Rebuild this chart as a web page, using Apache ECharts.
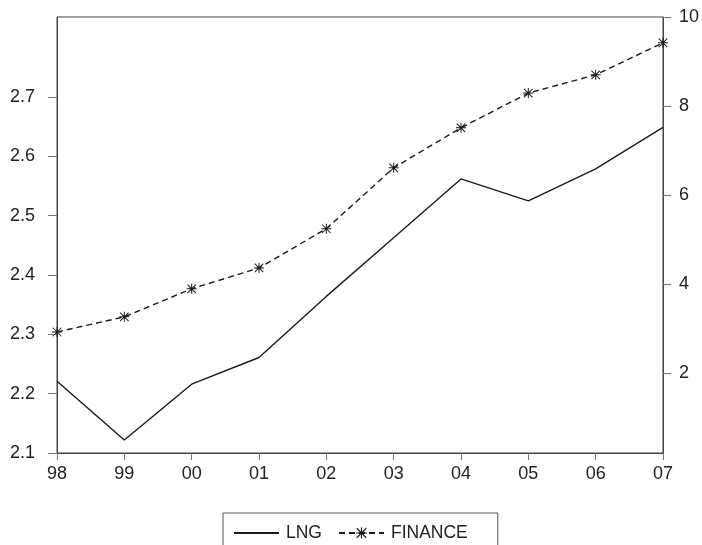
<!DOCTYPE html>
<html>
<head>
<meta charset="utf-8">
<script src="https://cdn.jsdelivr.net/npm/echarts@6/dist/echarts.min.js"></script>
<style>
  html, body { margin: 0; padding: 0; background: #fff; }
  #chart { width: 702px; height: 545px; }
</style>
</head>
<body>
<div id="chart"></div>
<script>
// Years shown along the horizontal axis
const years = ['98', '99', '00', '01', '02', '03', '04', '05', '06', '07'];
// LNG, read on the left axis
const lng = [2.221, 2.122, 2.216, 2.261, 2.364, 2.463, 2.562, 2.525, 2.579, 2.649];
// FINANCE, read on the right axis
const finance = [2.92, 3.26, 3.89, 4.36, 5.24, 6.61, 7.51, 8.29, 8.70, 9.42];
// Tick values on each value axis
const leftTicks = [2.1, 2.2, 2.3, 2.4, 2.5, 2.6, 2.7];
const rightTicks = [2, 4, 6, 8, 10];

// Asterisk marker built from four thin bars
const asterisk = 'path://M4.5,0L5.5,0L5.5,10L4.5,10Z M0,4.5L10,4.5L10,5.5L0,5.5Z ' +
  'M1.1,0.4L9.6,8.9L8.9,9.6L0.4,1.1Z M8.9,0.4L9.6,1.1L1.1,9.6L0.4,8.9Z';

const FONT = '"Liberation Sans", Arial, sans-serif';
const chart = echarts.init(document.getElementById('chart'), null, { renderer: 'canvas' });

chart.setOption({
  animation: false,
  backgroundColor: '#ffffff',
  grid: {
    left: 57, right: 39, top: 17, bottom: 92,
    show: true, borderColor: '#444', borderWidth: 1, backgroundColor: 'transparent'
  },
  legend: {
    left: 223, top: 513,
    padding: [11, 30, 20, 10],
    borderColor: '#555', borderWidth: 1,
    itemWidth: 45, itemHeight: 14, itemGap: 16,
    textStyle: { fontFamily: FONT, fontSize: 17.5, color: '#222', padding: [0, 0, 0, 2] },
    data: [
      { name: 'LNG', itemStyle: { opacity: 0 } },
      { name: 'FINANCE' }
    ]
  },
  xAxis: {
    type: 'category',
    data: years,
    boundaryGap: false,
    axisLine: { lineStyle: { color: '#444', width: 1 } },
    axisTick: { show: true, length: 7, inside: false, lineStyle: { color: '#777' } },
    axisLabel: { fontFamily: FONT, fontSize: 18, color: '#222', margin: 12 },
    splitLine: { show: false }
  },
  yAxis: [
    {
      type: 'value', position: 'left',
      min: 2.1, max: 2.835,
      axisLine: { show: true, lineStyle: { color: '#444', width: 1 } },
      axisTick: { show: true, length: 9, customValues: leftTicks, lineStyle: { color: '#777' } },
      axisLabel: {
        fontFamily: FONT, fontSize: 18, color: '#222', margin: 22,
        customValues: leftTicks,
        formatter: v => v.toFixed(1)
      },
      splitLine: { show: false }
    },
    {
      type: 'value', position: 'right',
      min: 0.2, max: 10,
      axisLine: { show: true, lineStyle: { color: '#444', width: 1 } },
      axisTick: { show: true, length: 8, customValues: rightTicks, lineStyle: { color: '#777' } },
      axisLabel: {
        fontFamily: FONT, fontSize: 18, color: '#222', margin: 16,
        customValues: rightTicks
      },
      splitLine: { show: false }
    }
  ],
  series: [
    {
      name: 'LNG', type: 'line', yAxisIndex: 0,
      data: lng,
      showSymbol: false, symbol: 'none',
      lineStyle: { color: '#1a1a1a', width: 1.4 },
      itemStyle: { color: '#1a1a1a' }
    },
    {
      name: 'FINANCE', type: 'line', yAxisIndex: 1,
      data: finance,
      symbol: asterisk, symbolSize: 10, showSymbol: true,
      lineStyle: { color: '#1a1a1a', width: 1.4, type: [6, 4] },
      itemStyle: { color: '#1a1a1a' }
    }
  ]
});
</script>
</body>
</html>
